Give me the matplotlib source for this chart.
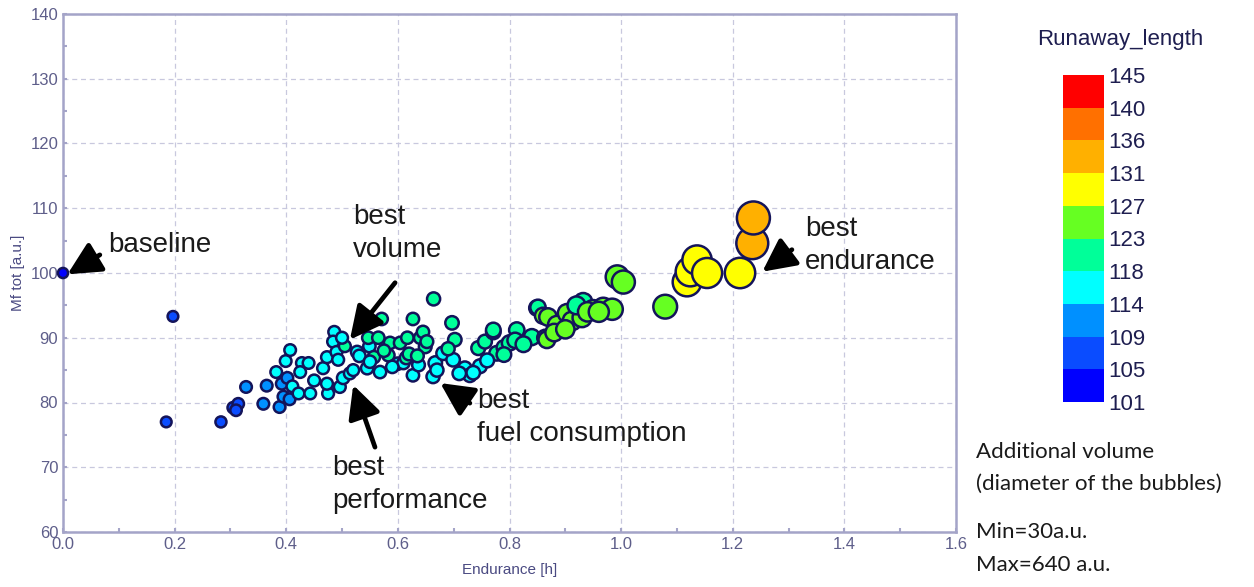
import numpy as np
import matplotlib.pyplot as plt
from matplotlib.colors import ListedColormap, BoundaryNorm
from matplotlib.cm import ScalarMappable

# design points: endurance [h], Mf tot [a.u.], runaway length, additional volume [a.u.]
endurance = [
    0.000, 0.185, 0.197, 0.283, 0.305, 0.314, 0.310, 0.328, 0.359, 0.365,
    0.382, 0.388, 0.392, 0.399, 0.407, 0.402, 0.395, 0.411, 0.406, 0.422,
    0.428, 0.425, 0.440, 0.443, 0.450, 0.466, 0.473, 0.475, 0.473, 0.486,
    0.484, 0.490, 0.493, 0.496, 0.502, 0.505, 0.500, 0.514, 0.520, 0.527,
    0.531, 0.545, 0.549, 0.547, 0.557, 0.565, 0.571, 0.568, 0.583, 0.586,
    0.600, 0.604, 0.610, 0.615, 0.617, 0.627, 0.627, 0.637, 0.640, 0.649,
    0.645, 0.652, 0.664, 0.663, 0.667, 0.681, 0.697, 0.702, 0.699, 0.720,
    0.729, 0.747, 0.744, 0.756, 0.771, 0.777, 0.771, 0.790, 0.800, 0.813,
    0.810, 0.840, 0.849, 0.851, 0.860, 0.864, 0.867, 0.869, 0.885, 0.903,
    0.912, 0.930, 0.932, 0.920, 0.950, 0.968, 0.984, 0.993, 1.004, 1.079,
    1.118, 1.124, 1.136, 1.154, 1.213, 1.235, 1.237,
    0.735, 0.760, 0.790, 0.620, 0.590, 0.550, 0.670, 0.710, 0.825, 0.880,
    0.900, 0.940, 0.960, 0.575, 0.635, 0.690,
]
mf_tot = [
    100.0, 77.0, 93.3, 77.0, 79.2, 79.8, 78.8, 82.4, 79.8, 82.6,
    84.7, 79.3, 82.9, 86.4, 88.1, 83.8, 80.9, 82.5, 80.5, 81.4,
    86.1, 84.7, 86.1, 81.4, 83.4, 85.3, 87.0, 81.4, 82.9, 90.9,
    89.4, 87.8, 86.6, 82.4, 83.8, 88.7, 90.0, 84.5, 85.0, 87.8,
    87.2, 85.3, 88.7, 90.0, 87.0, 90.0, 92.9, 84.7, 87.3, 89.2,
    86.0, 89.2, 86.1, 86.9, 90.0, 92.9, 84.2, 85.8, 90.0, 88.6,
    90.9, 89.4, 96.0, 84.0, 86.1, 87.6, 92.3, 89.7, 86.6, 85.3,
    84.2, 85.6, 88.4, 89.4, 90.9, 87.6, 91.2, 88.5, 89.2, 91.2,
    89.6, 90.1, 94.6, 94.7, 93.4, 90.0, 89.7, 93.2, 92.0, 93.8,
    92.6, 93.1, 95.5, 95.0, 94.3, 94.6, 94.4, 99.4, 98.6, 94.8,
    98.6, 100.2, 102.0, 100.0, 100.0, 104.6, 108.5,
    84.6, 86.5, 87.4, 87.5, 85.5, 86.3, 85.0, 84.5, 89.0, 90.8,
    91.3, 94.0, 94.0, 88.0, 87.2, 88.3,
]
runaway = [
    103, 107, 107, 107, 107, 107, 107, 111, 111, 111,
    116, 111, 111, 116, 116, 111, 111, 116, 111, 116,
    116, 116, 116, 116, 116, 116, 116, 116, 116, 116,
    116, 116, 116, 116, 116, 120, 116, 116, 116, 116,
    116, 116, 116, 120, 120, 120, 120, 116, 120, 120,
    116, 120, 116, 120, 120, 120, 116, 116, 120, 120,
    120, 120, 120, 116, 116, 116, 120, 120, 116, 116,
    116, 116, 120, 120, 120, 120, 120, 120, 120, 120,
    120, 120, 120, 120, 125, 120, 125, 125, 125, 125,
    125, 125, 120, 120, 125, 125, 125, 125, 125, 125,
    129, 129, 129, 129, 129, 133, 133,
    116, 116, 120, 120, 116, 116, 116, 116, 120, 125,
    125, 125, 125, 120, 120, 120,
]
volume = [
    20, 35, 35, 45, 55, 55, 55, 60, 60, 60,
    60, 60, 60, 60, 60, 60, 60, 60, 60, 60,
    60, 60, 60, 60, 65, 65, 65, 65, 65, 65,
    65, 65, 65, 65, 80, 65, 65, 65, 65, 80,
    80, 80, 80, 80, 80, 80, 80, 80, 80, 80,
    80, 80, 80, 90, 80, 80, 80, 90, 80, 90,
    80, 90, 100, 100, 110, 110, 110, 110, 110, 110,
    110, 120, 120, 120, 140, 140, 140, 140, 160, 160,
    160, 180, 160, 160, 180, 180, 200, 220, 230, 240,
    250, 260, 240, 230, 280, 300, 320, 370, 370, 390,
    520, 540, 540, 560, 570, 610, 640,
    110, 120, 140, 90, 80, 80, 100, 110, 170, 220,
    240, 270, 290, 80, 90, 100,
]

bounds = [101, 105, 109, 114, 118, 123, 127, 131, 136, 140, 145]
bin_colors = ['#0000ff', '#0a4cff', '#0090ff', '#00ffff', '#00ff99',
              '#66ff22', '#ffff00', '#ffb000', '#ff7000', '#ff0000']

cmap = ListedColormap(bin_colors)
norm = BoundaryNorm(bounds, cmap.N)

# bubble diameter in px grows linearly with the additional volume
vol = np.array(volume, dtype=float)
diam_px = 10.5 + 22.5 * (vol - 30) / 610
sizes = (diam_px * 0.72) ** 2

plt.rcParams['font.family'] = ['Liberation Sans', 'DejaVu Sans']

fig = plt.figure(figsize=(12.54, 5.87), dpi=100)
ax = fig.add_axes([63 / 1254, 55 / 587, 893 / 1254, 518 / 587])

ax.scatter(endurance, mf_tot, s=sizes, c=runaway, cmap=cmap, norm=norm,
           edgecolors='#14145a', linewidths=1.8, zorder=3, clip_on=False)

ax.set_xlim(0, 1.6)
ax.set_ylim(60, 140)
ax.set_xticks(np.arange(0, 1.61, 0.2))
ax.set_xticks(np.arange(0, 1.61, 0.1), minor=True)
ax.set_yticks(np.arange(60, 141, 10))
ax.set_yticks(np.arange(60, 141, 5), minor=True)
ax.xaxis.set_major_formatter(plt.FormatStrFormatter('%.1f'))

axis_col = '#a4a4c8'
label_col = '#5e5e8a'
for sp in ax.spines.values():
    sp.set_color(axis_col)
    sp.set_linewidth(1.8)
ax.tick_params(which='both', direction='in', color=axis_col, labelcolor=label_col,
               labelsize=12, length=3, width=1.5)
ax.grid(True, which='major', color='#c8c8de', linestyle=(0, (4, 3)), linewidth=0.9)
ax.set_axisbelow(True)

ax.set_xlabel('Endurance [h]', fontsize=11, color='#4a4a82', labelpad=8)
ax.set_ylabel('Mf tot [a.u.]', fontsize=11, color='#4a4a82', labelpad=4)

# callouts
txt = dict(fontsize=20, color='#1a1a1a', ha='left', va='center', linespacing=1.35)
arw = dict(arrowstyle='-|>,head_length=1.0,head_width=0.5', lw=3.4, color='black',
           shrinkA=0, shrinkB=0, mutation_scale=20)
ax.text(0.081, 104.3, 'baseline', **txt)
ax.annotate('', xy=(0.008, 99.8), xytext=(0.066, 102.8), arrowprops=arw)
ax.text(0.52, 106.1, 'best\nvolume', **txt)
ax.annotate('', xy=(0.514, 89.7), xytext=(0.595, 98.5), arrowprops=arw)
ax.text(0.482, 67.3, 'best\nperformance', **txt)
ax.annotate('', xy=(0.52, 82.7), xytext=(0.559, 73.1), arrowprops=arw)
ax.text(0.742, 77.7, 'best\nfuel consumption', **txt)
ax.annotate('', xy=(0.676, 83.0), xytext=(0.729, 79.9), arrowprops=arw)
ax.text(1.33, 104.2, 'best\nendurance', **txt)
ax.annotate('', xy=(1.253, 100.2), xytext=(1.306, 103.6), arrowprops=arw)

# colour scale
cax = fig.add_axes([1063 / 1254, 185 / 587, 41 / 1254, 327 / 587])
cb = fig.colorbar(ScalarMappable(norm=norm, cmap=cmap), cax=cax, ticks=bounds)
cb.outline.set_visible(False)
cax.tick_params(length=0, labelsize=16, labelcolor='#1e1e50', pad=3)
fig.text(1120 / 1254, 1 - 40 / 587, 'Runaway_length', fontsize=16, color='#1e1e50',
         ha='center', va='center')

note = dict(fontsize=16, color='#1a1a1a', ha='left', va='center', family=['Lato', 'DejaVu Sans'])
fig.text(976 / 1254, 1 - 452 / 587, 'Additional volume', **note)
fig.text(976 / 1254, 1 - 484 / 587, '(diameter of the bubbles)', **note)
fig.text(976 / 1254, 1 - 532 / 587, 'Min=30a.u.', **note)
fig.text(976 / 1254, 1 - 565 / 587, 'Max=640 a.u.', **note)

fig.savefig('out.png', dpi=100, facecolor='white')
